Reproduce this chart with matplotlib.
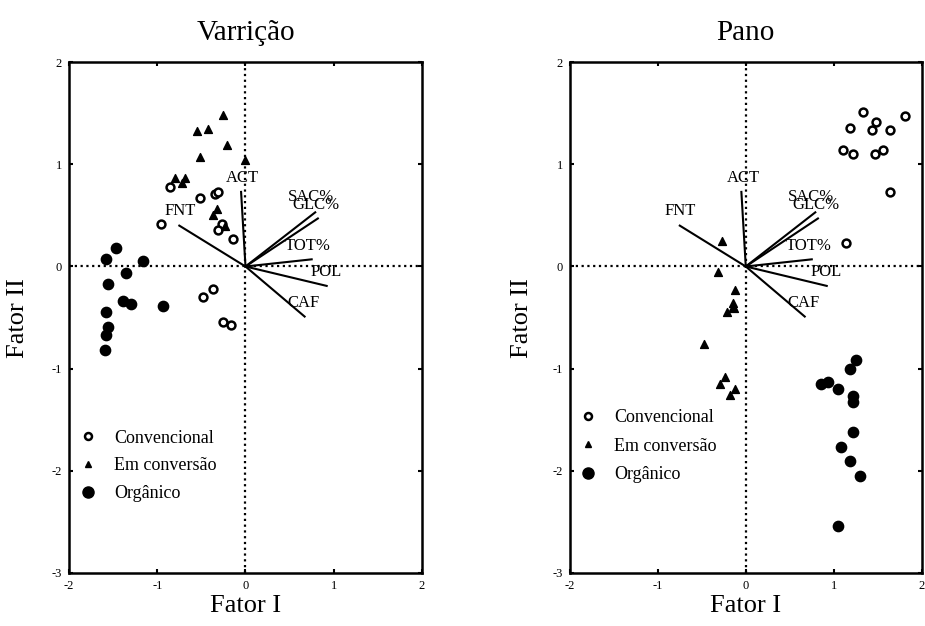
import matplotlib
matplotlib.use("Agg")
import matplotlib.pyplot as plt
from matplotlib.lines import Line2D

plt.rcParams['font.family'] = ['Liberation Serif', 'DejaVu Serif']
plt.rcParams['axes.unicode_minus'] = False

# Vetores das variaveis (mesmos nos dois graficos)
var_names = ['ACT', 'FNT', 'SAC%', 'GLC%', 'TOT%', 'POL', 'CAF']
var_x = [-0.05, -0.75, 0.79, 0.82, 0.75, 0.92, 0.67]
var_y = [0.73, 0.40, 0.53, 0.47, 0.07, -0.19, -0.49]
lab_x = [-0.03, -0.74, 0.74, 0.80, 0.71, 0.91, 0.66]
lab_y = [0.87, 0.54, 0.68, 0.60, 0.20, -0.05, -0.36]

# Varricao
var_conv_x = [-0.85, -0.51, -0.35, -0.31, -0.96, -0.27, -0.31, -0.14, -0.37, -0.48, -0.26, -0.16]
var_conv_y = [0.78, 0.67, 0.71, 0.73, 0.42, 0.42, 0.36, 0.27, -0.22, -0.30, -0.54, -0.57]
var_emc_x = [-0.26, -0.55, -0.43, -0.21, -0.52, -0.01, -0.80, -0.69, -0.72, -0.32, -0.37, -0.23]
var_emc_y = [1.48, 1.33, 1.35, 1.19, 1.07, 1.04, 0.87, 0.87, 0.82, 0.56, 0.50, 0.40]
var_org_x = [-1.47, -1.58, -1.16, -1.35, -1.56, -1.39, -1.30, -0.93, -1.58, -1.56, -1.58, -1.59]
var_org_y = [0.18, 0.07, 0.05, -0.06, -0.17, -0.34, -0.37, -0.39, -0.45, -0.59, -0.67, -0.82]

# Pano
pano_conv_x = [1.33, 1.81, 1.48, 1.19, 1.44, 1.64, 1.10, 1.22, 1.56, 1.47, 1.64, 1.14]
pano_conv_y = [1.51, 1.47, 1.41, 1.36, 1.34, 1.34, 1.14, 1.10, 1.14, 1.10, 0.73, 0.23]
pano_emc_x = [-0.27, -0.32, -0.12, -0.15, -0.13, -0.21, -0.14, -0.47, -0.24, -0.29, -0.12, -0.18]
pano_emc_y = [0.25, -0.05, -0.23, -0.36, -0.41, -0.45, -0.40, -0.76, -1.08, -1.15, -1.20, -1.26]
pano_org_x = [1.25, 1.19, 0.85, 0.94, 1.05, 1.22, 1.22, 1.22, 1.08, 1.19, 1.30, 1.05]
pano_org_y = [-0.92, -1.00, -1.15, -1.13, -1.20, -1.27, -1.33, -1.62, -1.77, -1.90, -2.05, -2.54]

groups = ['Convencional', 'Em conversão', 'Orgânico']


def draw_panel(ax, title, conv, emc, org, leg_anchor, leg_space, ylab_pad):
    ax.axhline(0, color='black', lw=1.6, ls=(0, (1, 1.6)), zorder=1)
    ax.axvline(0, color='black', lw=1.6, ls=(0, (1, 1.6)), zorder=1)
    for vx, vy, lx, ly, name in zip(var_x, var_y, lab_x, lab_y, var_names):
        ax.plot([0, vx], [0, vy], color='black', lw=1.5, zorder=2)
        ax.text(lx, ly, name, ha='center', va='center', fontsize=12, zorder=3)
    ax.scatter(conv[0], conv[1], s=32, facecolors='white', edgecolors='black',
               linewidths=1.8, zorder=4)
    ax.scatter(emc[0], emc[1], s=32, marker='^', color='black', zorder=4)
    ax.scatter(org[0], org[1], s=55, color='black', zorder=4)
    ax.set_xlim(-2, 2)
    ax.set_ylim(-3, 2)
    ax.set_xticks([-2, -1, 0, 1, 2])
    ax.set_yticks([-3, -2, -1, 0, 1, 2])
    ax.tick_params(direction='in', length=3, width=1.5, labelsize=9,
                   top=True, right=True, pad=5)
    for sp in ax.spines.values():
        sp.set_linewidth(1.8)
    ax.set_title(title, fontsize=21, pad=16)
    ax.set_xlabel('Fator I', fontsize=19, labelpad=2)
    ax.set_ylabel('Fator II', fontsize=19, labelpad=ylab_pad)
    handles = [
        Line2D([], [], ls='none', marker='o', ms=5, mfc='white', mec='black', mew=1.8),
        Line2D([], [], ls='none', marker='^', ms=5, color='black'),
        Line2D([], [], ls='none', marker='o', ms=8, color='black'),
    ]
    ax.legend(handles, groups, loc='upper left', bbox_to_anchor=leg_anchor,
              frameon=False, fontsize=13, handlelength=1.2, handletextpad=0.85,
              labelspacing=leg_space, borderaxespad=0)


fig = plt.figure(figsize=(9.25, 6.26), dpi=100)
ax1 = fig.add_axes([0.0746, 0.0847, 0.3816, 0.816])
ax2 = fig.add_axes([0.616, 0.0847, 0.3805, 0.816])

draw_panel(ax1, 'Varrição', (var_conv_x, var_conv_y), (var_emc_x, var_emc_y),
           (var_org_x, var_org_y), (0.003, 0.295), 0.6, 16)
draw_panel(ax2, 'Pano', (pano_conv_x, pano_conv_y), (pano_emc_x, pano_emc_y),
           (pano_org_x, pano_org_y), (0.0, 0.335), 0.64, 14)

fig.savefig('out.png', dpi=100)
